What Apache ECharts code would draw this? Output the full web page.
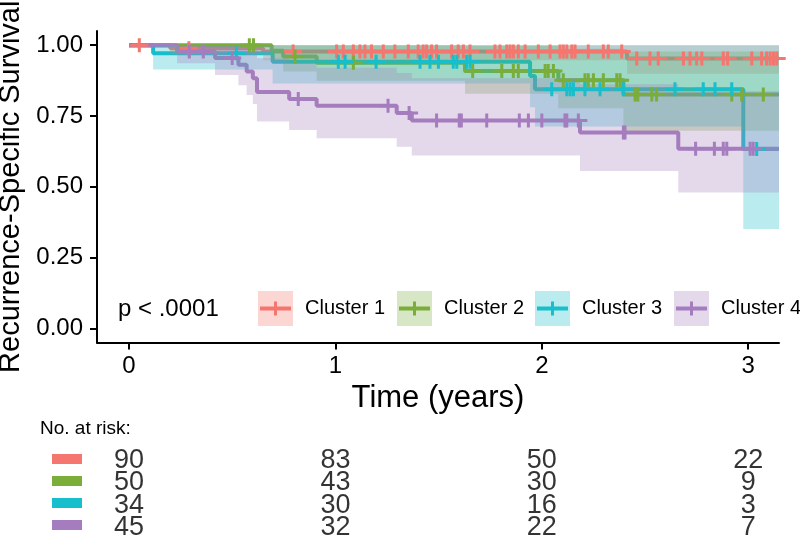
<!DOCTYPE html>
<html><head><meta charset="utf-8">
<script src="https://cdn.jsdelivr.net/npm/echarts@6/dist/echarts.min.js"></script>
<style>html,body{margin:0;padding:0;background:#fff}#c{width:800px;height:537px}</style>
</head><body><div id="c"></div>
<script>
// ---------- data ----------
const clusterNames = ['Cluster 1', 'Cluster 2', 'Cluster 3', 'Cluster 4'];
const timeTicks = [0, 1, 2, 3];
const survTicks = [0, 0.25, 0.5, 0.75, 1];
const pText = 'p < .0001';

const c1Time  = [0, 0.20, 0.65, 2.413];
const c1Surv  = [1, 0.989, 0.978, 0.953];
const c1Lower = [1, 0.967, 0.947, 0.899];
const c1Upper = [1, 1, 1, 1];
const c1Censor = [0.05, 0.29, 0.795, 1.006, 1.038, 1.087, 1.119, 1.143, 1.175, 1.232, 1.288, 1.353, 1.401, 1.425, 1.442, 1.466, 1.490, 1.563, 1.595, 1.620, 1.652, 1.773, 1.797, 1.830, 1.846, 1.862, 1.886, 1.919, 1.983, 2.040, 2.088, 2.104, 2.121, 2.145, 2.161, 2.225, 2.298, 2.322, 2.387, 2.460, 2.524, 2.564, 2.686, 2.718, 2.750, 2.775, 2.879, 2.900, 3.017, 3.065, 3.089, 3.106, 3.122, 3.138];

const c2Time  = [0, 0.691, 0.747, 0.909, 1.628, 2.080, 2.395];
const c2Surv  = [1, 0.980, 0.960, 0.938, 0.909, 0.876, 0.826];
const c2Lower = [1, 0.941, 0.907, 0.874, 0.828, 0.777, 0.698];
const c2Upper = [1, 1, 1, 1, 0.998, 0.987, 0.978];
const c2Censor = [0.583, 0.603, 0.804, 1.087, 1.665, 1.806, 1.862, 1.886, 2.016, 2.031, 2.056, 2.104, 2.209, 2.225, 2.250, 2.298, 2.363, 2.379, 2.452, 2.465, 2.533, 2.556, 2.920, 2.968, 3.073];

const c3Time  = [0, 0.117, 0.696, 1.943, 1.967, 2.976];
const c3Surv  = [1, 0.971, 0.941, 0.891, 0.844, 0.633];
const c3Lower = [1, 0.914, 0.865, 0.781, 0.713, 0.351];
const c3Upper = [1, 1, 1, 1, 1, 1];
const c3Censor = [0.52, 1.014, 1.047, 1.197, 1.410, 1.458, 1.499, 1.571, 1.588, 1.636, 1.652, 2.048, 2.121, 2.137, 2.153, 2.209, 2.282, 2.395, 2.645, 2.782, 2.839, 2.920, 3.041];

const c4Time  = [0, 0.233, 0.417, 0.53, 0.57, 0.60, 0.62, 0.776, 0.909, 1.297, 1.37, 2.185, 2.661];
const c4Surv  = [1, 0.978, 0.955, 0.931, 0.907, 0.883, 0.835, 0.810, 0.786, 0.760, 0.734, 0.692, 0.634];
const c4Lower = [1, 0.936, 0.895, 0.858, 0.824, 0.792, 0.730, 0.700, 0.671, 0.641, 0.610, 0.556, 0.480];
const c4Upper = [1, 1, 1, 1, 1, 0.985, 0.954, 0.938, 0.920, 0.902, 0.883, 0.862, 0.837];
const c4Censor = [0.292, 0.36, 0.50, 0.82, 1.255, 1.357, 1.49, 1.60, 1.61, 1.733, 1.891, 1.935, 2.0, 2.112, 2.121, 2.177, 2.395, 2.403, 2.745, 2.836, 2.879, 2.896, 3.009, 3.024];

const riskTimes = [0, 1, 2, 3];
const risk1 = [90, 83, 50, 22];
const risk2 = [50, 43, 30, 9];
const risk3 = [34, 30, 16, 3];
const risk4 = [45, 32, 22, 7];

// ---------- axis range / style ----------
const xMin = -0.155, xMax = 3.149;
const yMin = -0.05, yMax = 1.05;
const colors = ['#F4766E', '#7BAD3A', '#17BECB', '#A57DBE'];
const FONT = '"Liberation Sans", Arial, Helvetica, sans-serif';
const plusPath = 'path://M7.5,0 H10.5 V5.5 H18 V8.5 H10.5 V14 H7.5 V8.5 H0 V5.5 H7.5 Z';

const clusters = [
  {time: c1Time, surv: c1Surv, lower: c1Lower, upper: c1Upper, censor: c1Censor, risk: risk1},
  {time: c2Time, surv: c2Surv, lower: c2Lower, upper: c2Upper, censor: c2Censor, risk: risk2},
  {time: c3Time, surv: c3Surv, lower: c3Lower, upper: c3Upper, censor: c3Censor, risk: risk3},
  {time: c4Time, surv: c4Surv, lower: c4Lower, upper: c4Upper, censor: c4Censor, risk: risk4}
];
const last = a => a[a.length - 1];
function stepAt(times, vals, t) {
  let v = vals[0];
  for (let i = 0; i < times.length; i++) if (times[i] <= t) v = vals[i];
  return v;
}

const series = [];
clusters.forEach((c, k) => {
  series.push({
    type: 'line', xAxisIndex: 0, yAxisIndex: 0, step: 'end', symbol: 'none', silent: true, z: 2,
    data: c.time.map((t, i) => [t, c.surv[i]]).concat([[xMax, last(c.surv)]]),
    lineStyle: {color: colors[k], width: 4}
  });
});
clusters.forEach((c, k) => {
  series.push({
    type: 'custom', xAxisIndex: 0, yAxisIndex: 0, silent: true, z: 3,
    data: [[0, 1]],
    renderItem: (params, api) => {
      const n = c.time.length, pts = [];
      for (let i = 0; i < n; i++) {
        const t1 = i < n - 1 ? c.time[i + 1] : xMax;
        pts.push(api.coord([c.time[i], c.upper[i]]));
        pts.push(api.coord([t1, c.upper[i]]));
      }
      for (let i = n - 1; i >= 0; i--) {
        const t1 = i < n - 1 ? c.time[i + 1] : xMax;
        pts.push(api.coord([t1, c.lower[i]]));
        pts.push(api.coord([c.time[i], c.lower[i]]));
      }
      return {type: 'polygon', shape: {points: pts}, style: {fill: colors[k], opacity: 0.3}};
    }
  });
});
clusters.forEach((c, k) => {
  series.push({
    type: 'scatter', xAxisIndex: 0, yAxisIndex: 0, silent: true, z: 4,
    symbol: plusPath, symbolSize: [18, 14],
    data: c.censor.map(t => [t, stepAt(c.time, c.surv, t)]),
    itemStyle: {color: colors[k], opacity: 1}
  });
});
clusters.forEach((c, k) => {
  series.push({
    type: 'scatter', xAxisIndex: 1, yAxisIndex: 1, silent: true,
    symbol: 'rect', symbolSize: 1,
    data: riskTimes.map((t, i) => [t, k, c.risk[i]]),
    itemStyle: {color: 'rgba(0,0,0,0)'},
    label: {show: true, position: 'inside', formatter: p => String(p.value[2]),
            fontSize: 27, color: '#000', fontFamily: FONT}
  });
});

const graphic = [];
graphic.push({type: 'text', x: 118, y: 309, style: {text: pText, fontSize: 24, fill: '#000', fontFamily: FONT, verticalAlign: 'middle'}});
const keyX = [258, 397, 535, 674];
clusterNames.forEach((n, k) => {
  const x = keyX[k], y = 291;
  graphic.push({type: 'rect', shape: {x: x, y: y, width: 35, height: 35}, style: {fill: colors[k], opacity: 0.3}});
  graphic.push({type: 'line', shape: {x1: x + 2, y1: y + 17.5, x2: x + 33, y2: y + 17.5}, style: {stroke: colors[k], lineWidth: 4}});
  graphic.push({type: 'line', shape: {x1: x + 17.5, y1: y + 10.5, x2: x + 17.5, y2: y + 24.5}, style: {stroke: colors[k], lineWidth: 3}});
  graphic.push({type: 'text', x: x + 47, y: y + 17.5, style: {text: n, fontSize: 20, fill: '#000', fontFamily: FONT, verticalAlign: 'middle', align: 'left'}});
});
graphic.push({type: 'text', x: 40, y: 428.5, style: {text: 'No. at risk:', fontSize: 19, fill: '#000', fontFamily: FONT, verticalAlign: 'middle'}});
const riskKeyY = [459, 481, 503, 525];
clusterNames.forEach((n, k) => {
  graphic.push({type: 'rect', shape: {x: 52, y: riskKeyY[k] - 5, width: 30, height: 10}, style: {fill: colors[k]}});
});

const option = {
  animation: false,
  backgroundColor: '#fff',
  grid: [
    {left: 97, right: 21, top: 31, bottom: 194.5, containLabel: false, outerBoundsMode: 'none'},
    {left: 97, right: 21, top: 449.5, height: 89.2, containLabel: false, outerBoundsMode: 'none'}
  ],
  xAxis: [
    {
      type: 'value', gridIndex: 0, min: xMin, max: xMax,
      axisLine: {show: true, onZero: false, lineStyle: {color: '#000', width: 2}},
      splitLine: {show: false},
      axisTick: {show: true, customValues: timeTicks, length: 7, lineStyle: {color: '#000', width: 2}},
      axisLabel: {customValues: timeTicks, fontSize: 24, color: '#000', margin: 12, fontFamily: FONT},
      name: 'Time (years)', nameLocation: 'middle', nameGap: 36,
      nameTextStyle: {fontSize: 31, color: '#000', fontFamily: FONT}
    },
    {type: 'value', gridIndex: 1, min: xMin, max: xMax, show: false}
  ],
  yAxis: [
    {
      type: 'value', gridIndex: 0, min: yMin, max: yMax,
      axisLine: {show: true, onZero: false, lineStyle: {color: '#000', width: 2}},
      splitLine: {show: false},
      axisTick: {show: true, customValues: survTicks, length: 7, lineStyle: {color: '#000', width: 2}},
      axisLabel: {customValues: survTicks, fontSize: 24, color: '#000', margin: 14, fontFamily: FONT,
                  formatter: v => v.toFixed(2)},
      name: 'Recurrence-Specific Survival', nameLocation: 'middle', nameGap: 67,
      nameTextStyle: {fontSize: 29, color: '#000', fontFamily: FONT}
    },
    {type: 'category', gridIndex: 1, data: ['0', '1', '2', '3'], inverse: true, show: false}
  ],
  graphic: graphic,
  series: series
};
const chart = echarts.init(document.getElementById('c'), null, {renderer: 'canvas'});
chart.setOption(option);
</script></body></html>
